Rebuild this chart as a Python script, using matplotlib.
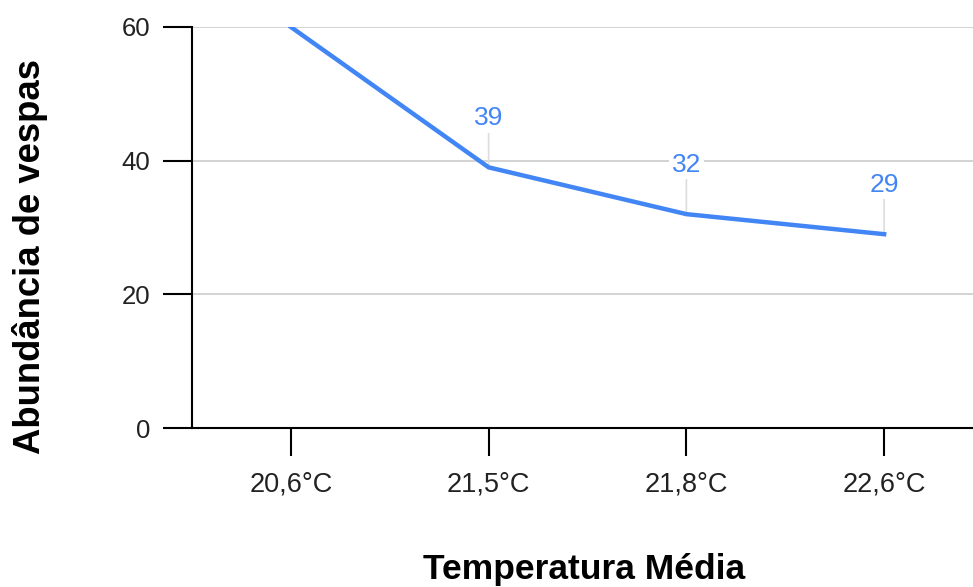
import matplotlib
matplotlib.use("Agg")
import matplotlib.pyplot as plt

categories = ["20,6°C", "21,5°C", "21,8°C", "22,6°C"]
values = [60, 39, 32, 29]
y_ticks = [0, 20, 40, 60]

plt.rcParams['font.family'] = ['Liberation Sans', 'DejaVu Sans']

W, H = 973, 587
fig = plt.figure(figsize=(W / 100, H / 100), dpi=100)
left, right, bottom, top = 192, 983, 428, 27
ax = fig.add_axes([left / W, (H - bottom) / H, (right - left) / W, (bottom - top) / H])

x = list(range(len(categories)))
ax.plot(x, values, color="#4285f4", linewidth=3.2, solid_joinstyle="round", zorder=3, clip_on=True)

ax.set_xlim(-0.5, len(categories) - 0.5)
ax.set_ylim(y_ticks[0], y_ticks[-1])
ymax = ax.get_ylim()[1]

for xi, v in zip(x, values):
    # labels that would sit above the plot area are hidden (as in the reference)
    if v >= ymax:
        continue
    ax.annotate("", xy=(xi, v), xytext=(0, 26), textcoords="offset points",
                arrowprops=dict(arrowstyle="-", color="#dddddd", lw=1.2, shrinkA=0, shrinkB=0),
                zorder=2)
    ax.annotate(str(v), xy=(xi, v), xytext=(0, 30.5), textcoords="offset points",
                ha="center", va="baseline", color="#4285f4", fontsize=19,
                bbox=dict(boxstyle="square,pad=0.1", fc="white", ec="none"),
                zorder=4)

ax.set_xticks(x)
ax.set_xticklabels(categories, fontsize=19.5, color="#222222")
ax.set_yticks(y_ticks)
ax.set_yticklabels([str(t) for t in y_ticks], fontsize=18.5, color="#222222")
ax.tick_params(axis="x", length=20, width=1.5, color="black", pad=11)
ax.tick_params(axis="y", length=21, width=1.5, color="black", pad=9)
ax.grid(axis="y", color="#cccccc", linewidth=1.2)
ax.set_axisbelow(True)
for s in ["top", "right"]:
    ax.spines[s].set_visible(False)
for s in ["left", "bottom"]:
    ax.spines[s].set_linewidth(1.5)
    ax.spines[s].set_color("black")

fig.text(584 / W, 1 - 570 / H, "Temperatura Média", ha="center", va="center",
         fontsize=25.5, fontweight="bold")
fig.text(30 / W, 1 - 256 / H, "Abundância de vespas", ha="center", va="center",
         rotation=90, fontsize=26.3, fontweight="bold")

fig.savefig("out.png", dpi=100)
